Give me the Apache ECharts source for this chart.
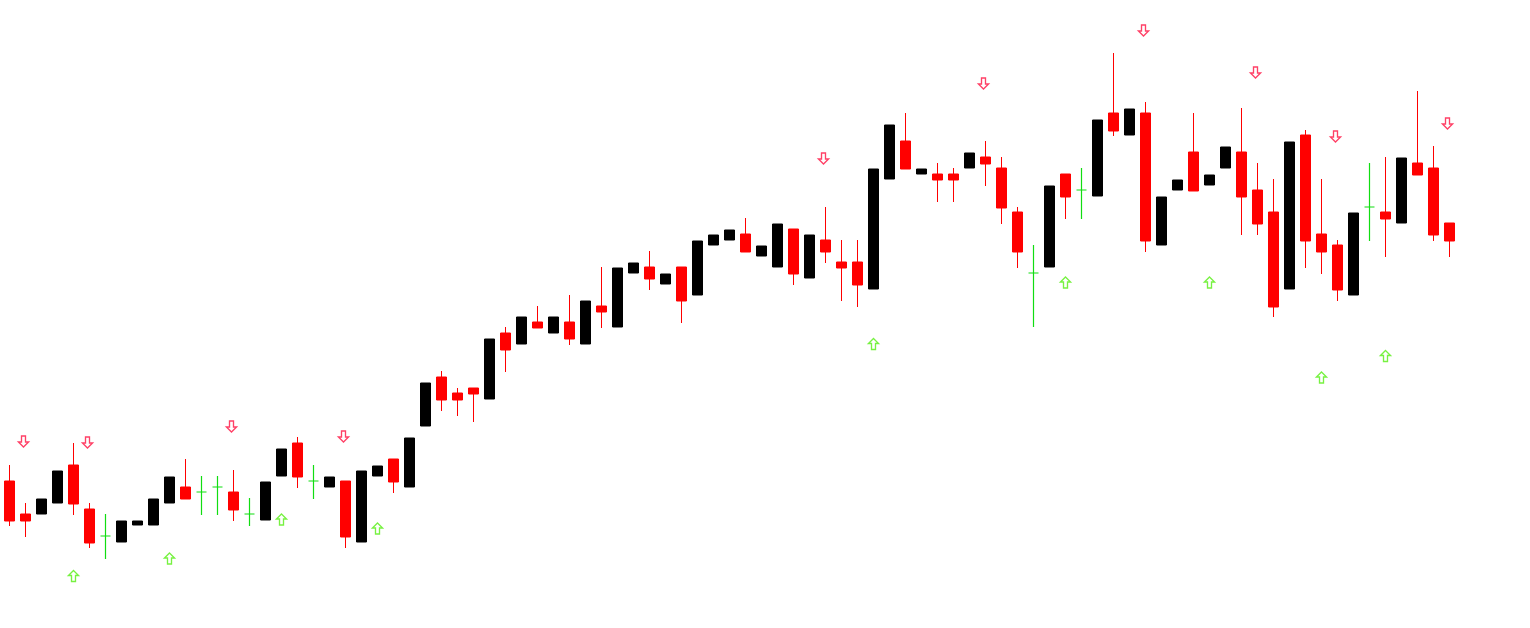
<!DOCTYPE html>
<html>
<head>
<meta charset="utf-8">
<script src="https://cdn.jsdelivr.net/npm/echarts@6/dist/echarts.min.js"></script>
<style>
  html, body { margin: 0; padding: 0; background: #ffffff; }
  #chart { width: 1530px; height: 628px; }
</style>
</head>
<body>
<div id="chart"></div>
<script>
// Price values (arbitrary units)
const openV  = [147,114,114,125,163,119, 92, 86,103,103,125,141,136,141,136,114,108,152,185,147,
                141,147, 86,152,169,141,202,251,235,240,229,295,284,306,295,306,284,322,301,355,
                361,344,361,333,383,388,394,372,361,399,350,388,366,366,339,449,487,454,454,454,
                460,471,460,416,355,361,454,438,432,515,493,515,383,438,476,443,460,476,438,416,
                339,493,394,383,333,421,416,405,465,460,405];
const closeV = [107,107,129,157,124, 85, 92,107,107,129,151,129,136,141,118,114,146,179,151,147,
                151, 91,157,162,146,190,245,228,228,234,289,278,311,300,311,289,327,316,360,365,
                349,354,327,387,393,398,376,382,404,354,393,376,360,343,459,503,459,459,448,448,
                475,464,420,376,355,442,431,438,508,497,519,387,431,448,437,453,481,431,404,321,
                486,387,376,338,415,421,409,470,453,393,387];
const highV  = [163,125,129,157,185,125,114,107,107,129,151,169,152,152,158,130,146,179,191,163,
                151,147,157,162,169,190,245,257,240,240,289,301,311,322,311,333,327,361,360,365,
                377,354,361,387,393,398,410,382,404,399,393,421,388,388,459,503,515,459,465,460,
                475,487,471,421,383,442,454,460,508,575,519,526,431,448,515,453,481,520,465,449,
                486,498,449,388,415,465,471,470,537,482,405];
const lowV   = [102, 91,114,125,113, 80, 69, 86,103,103,125,129,113,113,107,102,108,152,140,129,
                141, 80, 86,152,135,141,202,217,212,206,229,256,284,300,295,283,284,300,301,355,
                338,344,305,333,383,388,376,372,361,343,350,365,327,321,339,449,459,454,426,426,
                460,442,404,360,301,361,409,409,432,492,493,376,383,438,437,443,460,393,393,311,
                339,360,354,327,333,387,371,405,453,387,371];

// Signal arrows: [candle index, value]
const downArrows = [[1,186.5],[5,185.5],[14,201.5],[21,191.5],[51,469.5],[61,544.5],
                    [71,597.5],[78,555.5],[83,491.5],[90,504.5]];
const upArrows   = [[4,52],[10,69.5],[17,108.5],[23,99.5],[54,284],[66,345.5],
                    [75,345.5],[82,250.5],[86,272]];

const categories = openV.map((_, i) => String(i + 1));

const UP = '#000000', DOWN = '#ff0000', DOJI = '#11dd11';

const candleData = openV.map((o, i) => {
  const item = { value: [o, closeV[i], lowV[i], highV[i]] };
  if (o === closeV[i]) {
    item.itemStyle = { color: DOJI, color0: DOJI, borderColor: DOJI, borderColor0: DOJI, borderColorDoji: DOJI, borderWidth: 1.2 };
  }
  return item;
});

const downPath = 'path://M3 0 L7 0 L7 6 L10 6 L5 11 L0 6 L3 6 Z';
const upPath   = 'path://M5 0 L10 5 L7 5 L7 11 L3 11 L3 5 L0 5 Z';

const chart = echarts.init(document.getElementById('chart'), null, { renderer: 'canvas' });
chart.setOption({
  animation: false,
  backgroundColor: '#ffffff',
  grid: { left: 1.5, width: 1456, top: 0, height: 628, containLabel: false },
  xAxis: {
    type: 'category', data: categories, boundaryGap: true, show: false
  },
  yAxis: {
    type: 'value', min: 0, max: 628, show: false, splitLine: { show: false }
  },
  series: [
    {
      type: 'candlestick',
      data: candleData,
      barWidth: 10,
      itemStyle: {
        color: UP, color0: DOWN, borderColor: UP, borderColor0: DOWN,
        borderColorDoji: DOJI, borderWidth: 1
      }
    },
    {
      type: 'scatter',
      data: downArrows,
      symbol: downPath,
      symbolSize: [10, 11],
      symbolOffset: [-2, 0],
      itemStyle: { color: '#ffffff', borderColor: '#ff1040', borderWidth: 1.4 },
      z: 5
    },
    {
      type: 'scatter',
      data: upArrows,
      symbol: upPath,
      symbolSize: [10, 11],
      itemStyle: { color: '#ffffff', borderColor: '#55ee11', borderWidth: 1.4 },
      z: 5
    }
  ]
});
</script>
</body>
</html>
